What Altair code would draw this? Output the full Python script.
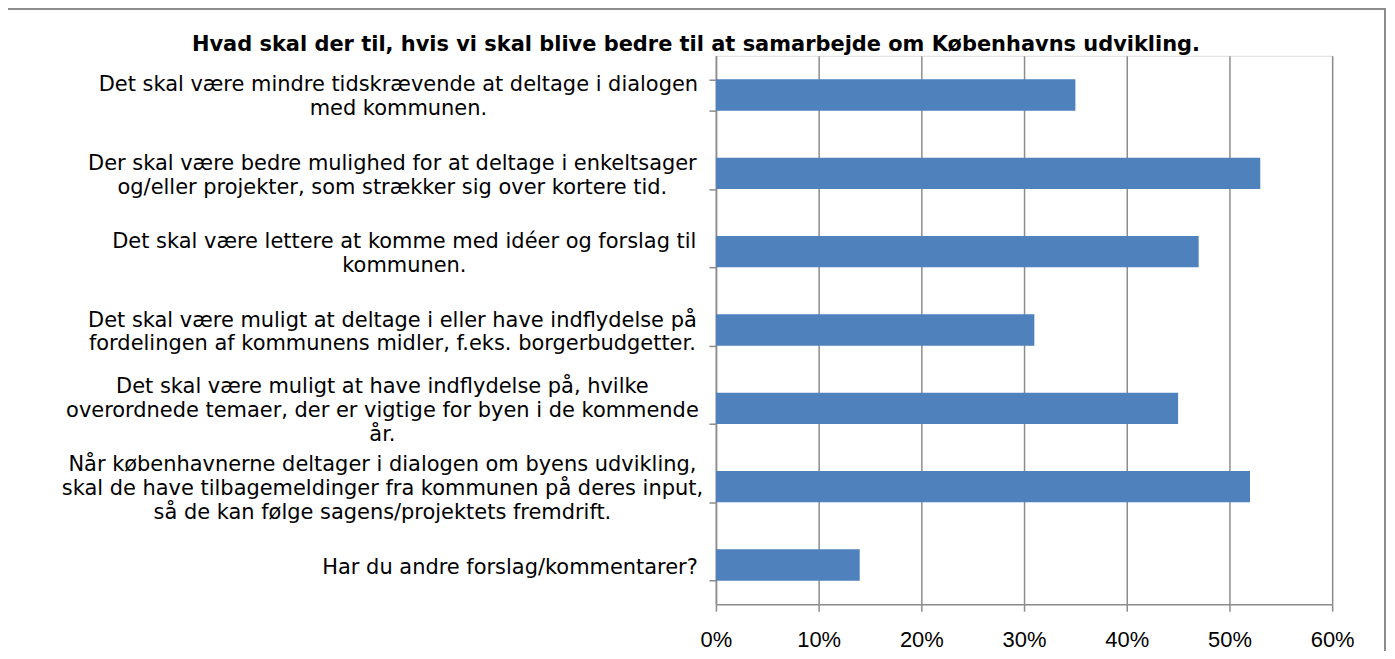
import altair as alt
import pandas as pd

title = "Hvad skal der til, hvis vi skal blive bedre til at samarbejde om Københavns udvikling."

categories = [
    "Det skal være mindre tidskrævende at deltage i dialogen|med kommunen.",
    "Der skal være bedre mulighed for at deltage i enkeltsager|og/eller projekter, som strækker sig over kortere tid.",
    "Det skal være lettere at komme med idéer og forslag til|kommunen.",
    "Det skal være muligt at deltage i eller have indflydelse på|fordelingen af kommunens midler, f.eks. borgerbudgetter.",
    "Det skal være muligt at have indflydelse på, hvilke|overordnede temaer, der er vigtige for byen i de kommende|år.",
    "Når københavnerne deltager i dialogen om byens udvikling,|skal de have tilbagemeldinger fra kommunen på deres input,|så de kan følge sagens/projektets fremdrift.",
    "Har du andre forslag/kommentarer?",
]
values = [0.35, 0.53, 0.47, 0.31, 0.45, 0.52, 0.14]
x_ticks = [0, 0.1, 0.2, 0.3, 0.4, 0.5, 0.6]

df = pd.DataFrame({"cat": categories, "val": values})

LINE_H = 24
FONT = 21

# styling: distance from tick to the centre of each label block (label blocks are
# right-aligned against the axis, their lines centred within the block)
label_pad = [312, 318, 306, 318, 328, 328, 200]
cat_list = "[" + ",".join(f"'{c}'" for c in categories) + "]"
pad_list = "[" + ",".join(str(p) for p in label_pad) + "]"
pad_expr = f"{pad_list}[indexof({cat_list}, datum.value)]"
offset_expr = f"2 - (length(split(datum.value, '|')) - 1) * {LINE_H / 2}"

bars = alt.Chart(df).mark_bar(color="#4F81BD").encode(
    x=alt.X(
        "val:Q",
        scale=alt.Scale(domain=[0, 0.6], nice=False),
        axis=alt.Axis(
            values=x_ticks,
            format=".0%",
            title=None,
            grid=True,
            gridColor="#8C8C8C",
            gridWidth=1.5,
            domainColor="#8C8C8C",
            domainWidth=1.5,
            tickColor="#8C8C8C",
            tickWidth=1.5,
            tickSize=7,
            labelFont="Liberation Sans Narrow, Liberation Sans, Arial",
            labelFontSize=22,
            labelColor="#000000",
            labelPadding=18,
            labelFlush=False,
        ),
    ),
    y=alt.Y(
        "cat:N",
        sort=categories,
        scale=alt.Scale(paddingInner=0.6, paddingOuter=0.3),
        axis=alt.Axis(
            title=None,
            labelExpr="split(datum.label, '|')",
            labelFont="DejaVu Sans",
            labelFontSize=FONT,
            labelLineHeight=LINE_H,
            labelColor="#000000",
            labelLimit=800,
            labelAlign="center",
            labelPadding=alt.ExprRef(pad_expr),
            labelOffset=alt.ExprRef(offset_expr),
            tickBand="extent",
            tickColor="#8C8C8C",
            tickWidth=1.5,
            tickSize=7,
            domainColor="#8C8C8C",
            domainWidth=1.5,
            grid=False,
        ),
    ),
)

frame = alt.Chart(df).mark_rect(fill=None, stroke="#8C8C8C", strokeWidth=1.5, clip=False).encode(
    x=alt.value(-711), x2=alt.value(671), y=alt.value(-47), y2=alt.value(700)
)

chart = alt.layer(frame, bars).properties(
    width=618,
    height=550,
    title=alt.TitleParams(title, font="DejaVu Sans", fontSize=21, fontWeight="bold", color="#000000",
                          anchor="middle", frame="group", offset=5, dx=-329, dy=52),
    autosize=alt.AutoSizeParams(type="none"),
    padding={"left": 710, "top": 47, "right": 55, "bottom": 46},
).configure_view(stroke="#8C8C8C", strokeWidth=1.5).configure(background="white")

chart.save("out.html", embed_options={"renderer": "svg", "actions": False})
